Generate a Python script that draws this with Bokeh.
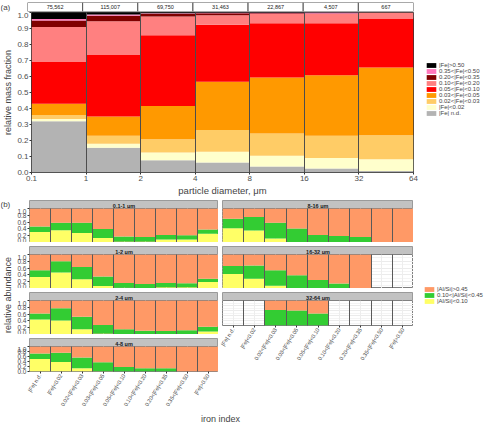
import numpy as np
from bokeh.core.properties import value
from bokeh.embed import file_html
from bokeh.layouts import column, row
from bokeh.models import (ColumnDataSource, FixedTicker, Grid, Label, Legend, LegendItem,
                          PrintfTickFormatter, Range1d, Spacer, Title)
from bokeh.plotting import figure
from bokeh.resources import INLINE

FONT = "Liberation Sans"

# ---------------- panel (a) data ----------------
diam_edges = ["0.1", "1", "2", "4", "8", "16", "32", "64"]
n_particles = ["75,562", "115,007", "69,750", "31,463", "22,867", "4,507", "667"]
fe_classes = ["|Fe| n.d.", "|Fe|<0.02", "0.02<|Fe|<0.03", "0.03<|Fe|<0.05",
              "0.05<|Fe|<0.10", "0.10<|Fe|<0.20", "0.20<|Fe|<0.35",
              "0.35<|Fe|<0.50", "|Fe|>0.50"]
fe_colors = ["#B3B3B3", "#FFFFCC", "#FFCC66", "#FF9900", "#FF0000",
             "#FF8080", "#800000", "#FF77BB", "#000000"]
frac_fe_nd = [0.320, 0.155, 0.077, 0.062, 0.037, 0.025, 0.010]
frac_fe_lt02 = [0.015, 0.025, 0.048, 0.067, 0.067, 0.065, 0.073]
frac_fe_0203 = [0.025, 0.050, 0.083, 0.136, 0.140, 0.139, 0.150]
frac_fe_0305 = [0.070, 0.120, 0.207, 0.302, 0.350, 0.379, 0.423]
frac_fe_0510 = [0.260, 0.385, 0.443, 0.356, 0.339, 0.325, 0.306]
frac_fe_1020 = [0.220, 0.210, 0.117, 0.060, 0.057, 0.057, 0.038]
frac_fe_2035 = [0.040, 0.035, 0.017, 0.013, 0.006, 0.004, 0.000]
frac_fe_3550 = [0.010, 0.008, 0.004, 0.002, 0.002, 0.006, 0.000]
frac_fe_gt50 = [0.040, 0.012, 0.004, 0.002, 0.002, 0.000, 0.000]

# ---------------- panel (b) data ----------------
size_classes = ["0.1-1 μm", "1-2 μm", "2-4 μm", "4-8 μm", "8-16 μm", "16-32 μm", "32-64 μm"]
al_classes = ["|Al/Si|<0.10", "0.10<|Al/Si|<0.45", "|Al/Si|>0.45"]
al_colors = ["#FFFF66", "#33CC33", "#FF9966"]
na = None
low_01_1 = [0.31, 0.36, 0.28, 0.13, 0.03, 0.03, 0.09, 0.09, 0.26]
mid_01_1 = [0.16, 0.22, 0.30, 0.27, 0.15, 0.13, 0.13, 0.12, 0.12]
high_01_1 = [0.53, 0.42, 0.42, 0.60, 0.82, 0.84, 0.78, 0.79, 0.62]
low_1_2 = [0.34, 0.47, 0.27, 0.07, 0.02, 0.01, 0.04, 0.04, 0.19]
mid_1_2 = [0.20, 0.33, 0.36, 0.28, 0.145, 0.125, 0.125, 0.115, 0.10]
high_1_2 = [0.46, 0.20, 0.37, 0.65, 0.835, 0.865, 0.835, 0.845, 0.71]
low_2_4 = [0.44, 0.41, 0.155, 0.03, 0.01, 0.01, 0.01, 0.01, 0.09]
mid_2_4 = [0.18, 0.36, 0.37, 0.25, 0.145, 0.10, 0.09, 0.115, 0.135]
high_2_4 = [0.38, 0.23, 0.475, 0.72, 0.845, 0.89, 0.90, 0.875, 0.775]
low_4_8 = [0.50, 0.38, 0.13, 0.01, 0.0, 0.0, 0.0, 0.0, 0.0]
mid_4_8 = [0.22, 0.37, 0.43, 0.36, 0.185, 0.135, 0.135, 0.0, 0.0]
high_4_8 = [0.28, 0.25, 0.44, 0.63, 0.815, 0.865, 0.865, 1.0, 1.0]
low_8_16 = [0.42, 0.35, 0.12, 0.01, 0.0, 0.0, 0.0, 0.0, 0.0]
mid_8_16 = [0.28, 0.40, 0.46, 0.40, 0.22, 0.19, 0.165, 0.0, 0.0]
high_8_16 = [0.30, 0.25, 0.42, 0.59, 0.78, 0.81, 0.835, 1.0, 1.0]
low_16_32 = [0.43, 0.29, 0.08, 0.0, 0.0, 0.0, 0.0, na, na]
mid_16_32 = [0.23, 0.385, 0.46, 0.39, 0.25, 0.15, 0.0, na, na]
high_16_32 = [0.34, 0.325, 0.46, 0.61, 0.75, 0.85, 1.0, na, na]
low_32_64 = [na, na, 0.0, 0.0, 0.0, na, na, na, na]
mid_32_64 = [na, na, 0.62, 0.60, 0.485, na, na, na, na]
high_32_64 = [na, na, 0.38, 0.40, 0.515, na, na, na, na]

lows = [low_01_1, low_1_2, low_2_4, low_4_8, low_8_16, low_16_32, low_32_64]
mids = [mid_01_1, mid_1_2, mid_2_4, mid_4_8, mid_8_16, mid_16_32, mid_32_64]
highs = [high_01_1, high_1_2, high_2_4, high_4_8, high_8_16, high_16_32, high_32_64]

TXT = "#4D4D4D"


def base_fig(**kw):
    return figure(output_backend="svg", toolbar_location=None, **kw)


def blank_fig(width, height, left=0, right=0, top=0, bottom=0, x_range=None):
    f = base_fig(width=width, height=height,
                 x_range=x_range if x_range is not None else Range1d(0, 1),
                 y_range=Range1d(0, 1), min_border_left=left, min_border_right=right,
                 min_border_top=top, min_border_bottom=bottom,
                 x_axis_location=None, y_axis_location=None)
    f.grid.visible = False
    f.outline_line_color = None
    return f


def style_axis(ax, size):
    ax.major_label_text_font = FONT
    ax.major_label_text_font_size = size
    ax.major_label_text_color = TXT
    ax.axis_label_text_font = FONT
    ax.axis_label_text_font_style = "normal"
    ax.axis_label_text_font_size = "9px"
    ax.major_tick_in = 0
    ax.major_tick_out = 2
    ax.minor_tick_line_color = None
    ax.major_tick_line_color = "#333333"
    ax.axis_line_color = None
    ax.major_label_standoff = 1
    ax.axis_label_standoff = 1


def text_fig(width, height, text, size):
    f = blank_fig(width, height)
    f.add_layout(Label(x=0, y=0.5, text=text, text_align="left", text_baseline="middle",
                       text_font=FONT, text_font_size=size))
    return f


def legend_fig(width, height, cols, source, labels, colors, left_pad):
    # the stacked bars are drawn outside this figure's visible range; only the legend shows
    lf = blank_fig(width, height, left=left_pad, x_range=Range1d(-30, -29))
    rs = lf.vbar_stack(cols, x="x", width=1, source=source, fill_color=colors, line_color=None)
    leg = Legend(items=[LegendItem(label=labels[i], renderers=[rs[i]])
                        for i in reversed(range(len(labels)))],
                 location="top_left", margin=0, padding=0, spacing=0, glyph_width=12,
                 glyph_height=6, label_height=6, label_standoff=2, label_text_font=FONT,
                 label_text_font_size="6px", border_line_color=None,
                 background_fill_alpha=0)
    lf.add_layout(leg, "center")
    return lf


# ================= panel (a) =================
nA = len(n_particles)
xa = np.arange(nA) + 0.5
cols_a = ["nd", "lt02", "c0203", "c0305", "c0510", "c1020", "c2035", "c3550", "gt50"]
srcA = ColumnDataSource(dict(x=xa, nd=frac_fe_nd, lt02=frac_fe_lt02, c0203=frac_fe_0203,
                             c0305=frac_fe_0305, c0510=frac_fe_0510, c1020=frac_fe_1020,
                             c2035=frac_fe_2035, c3550=frac_fe_3550, gt50=frac_fe_gt50))

# header strip with particle counts
hA = blank_fig(457, 12, right=71, top=2, bottom=1, x_range=Range1d(0, nA))
srcH = ColumnDataSource(dict(l=xa - 0.5, r=xa + 0.5, x=xa, y=np.full(nA, 0.5), t=n_particles))
hA.quad(left="l", right="r", bottom=0, top=1, source=srcH, fill_color="white",
        line_color="#555555")
hA.text(x="x", y="y", text="t", source=srcH, text_align="center", text_baseline="middle",
        text_font=value(FONT), text_font_size="5.5px", text_color="#222222")
labA = text_fig(27, 12, "(a)", "8px")
rowH = row(labA, hA, spacing=0)

pA = base_fig(width=421, height=186, x_range=hA.x_range, y_range=Range1d(0, 1),
              min_border_left=27, min_border_right=8, min_border_top=0, min_border_bottom=26)
rA = pA.vbar_stack(cols_a, x="x", width=1, source=srcA, fill_color=fe_colors, line_color=None)
pA.xaxis.ticker = FixedTicker(ticks=list(range(len(diam_edges))))
pA.xaxis.major_label_overrides = {i: diam_edges[i] for i in range(len(diam_edges))}
pA.yaxis.ticker = FixedTicker(ticks=[round(0.1 * k, 1) for k in range(11)])
pA.yaxis.formatter = PrintfTickFormatter(format="%.1f")
style_axis(pA.xaxis[0], "8px")
style_axis(pA.yaxis[0], "8px")
pA.xaxis.axis_label = "particle diameter, μm"
pA.yaxis.axis_label = "relative mass fraction"
pA.xaxis.axis_label_text_font_size = "9.5px"
pA.ygrid.visible = False
pA.xgrid.grid_line_color = "#4D4D4D"
pA.xgrid.level = "overlay"
pA.outline_line_color = "#333333"

legA = legend_fig(63, 66, cols_a, srcA, fe_classes, fe_colors, left_pad=4)
secA = row(pA, column(Spacer(width=63, height=50), legA, spacing=0), spacing=0)

# ================= panel (b) =================
nB = len(fe_classes)
xb = np.arange(nB)
srcs_b = [ColumnDataSource(dict(x=xb, low=np.array(lows[k], dtype=float),
                                mid=np.array(mids[k], dtype=float),
                                high=np.array(highs[k], dtype=float)))
          for k in range(len(size_classes))]


def make_facet(k, left, bottom):
    W = 204 if left else 195
    mbl = 13 if left else 4
    strip = blank_fig(W, 10, left=mbl)
    strip.background_fill_color = "#C2C2C2"
    strip.outline_line_color = "#9A9A9A"
    strip.add_layout(Label(x=0.5, y=0.5, text=size_classes[k], text_align="center",
                           text_baseline="middle", text_font=FONT, text_font_size="5.5px",
                           text_font_style="bold", text_color="#1A1A1A"))
    mbb = 31 if bottom else 0
    p = base_fig(width=W, height=34 + mbb, x_range=Range1d(-0.5, nB - 0.5),
                 y_range=Range1d(0, 1), min_border_left=mbl, min_border_right=0,
                 min_border_top=0, min_border_bottom=mbb,
                 x_axis_location="below" if bottom else None,
                 y_axis_location="left" if left else None)
    p.vbar_stack(["low", "mid", "high"], x="x", width=1, source=srcs_b[k],
                 fill_color=al_colors, line_color=None)
    p.xgrid.ticker = FixedTicker(ticks=list(np.arange(nB + 1) - 0.5))
    p.xgrid.grid_line_color = "#5A5A5A"
    p.xgrid.level = "overlay"
    p.ygrid.ticker = FixedTicker(ticks=[0, 0.2, 0.4, 0.6, 0.8, 1.0],
                                 minor_ticks=[0.1, 0.3, 0.5, 0.7, 0.9])
    p.ygrid.grid_line_color = "#EBEBEB"
    p.ygrid.minor_grid_line_color = "#F4F4F4"
    p.add_layout(Grid(dimension=0, ticker=FixedTicker(ticks=list(xb)),
                      grid_line_color="#EDEDED"))
    p.outline_line_color = "#808080"
    if left:
        p.yaxis.ticker = FixedTicker(ticks=[0, 0.2, 0.4, 0.6, 0.8, 1.0])
        p.yaxis.formatter = PrintfTickFormatter(format="%.1f")
        style_axis(p.yaxis[0], "6.5px")
    if bottom:
        p.xaxis.ticker = FixedTicker(ticks=list(xb))
        p.xaxis.major_label_overrides = {int(j): fe_classes[j] for j in xb}
        p.xaxis.major_label_orientation = 1.0
        style_axis(p.xaxis[0], "5.5px")
    return column(strip, p, spacing=0)


left_facets = [make_facet(k, True, k == 3) for k in range(4)]
right_facets = [make_facet(k, False, k == 6) for k in range(4, 7)]
left_col = column(*left_facets, spacing=2)
right_col = column(*right_facets, spacing=2)

labB = text_fig(14, 12, "(b)", "8px")
labY = blank_fig(14, 200, top=0, bottom=31)
labY.add_layout(Title(text="relative abundance", align="center", text_font=FONT,
                      text_font_size="9px", text_font_style="normal", standoff=0), "left")
left_lab = column(row(labB, spacing=0), row(labY, spacing=0), spacing=0)

legB = legend_fig(71, 22, ["low", "mid", "high"], srcs_b[3], al_classes, al_colors,
                  left_pad=10)
bsec = row(left_lab, left_col, right_col,
           column(Spacer(width=71, height=88), legB, spacing=0), spacing=0)

iron = blank_fig(484, 14, left=27, right=71)
iron.add_layout(Label(x=0.5, y=0.5, text="iron index", text_align="center",
                      text_baseline="middle", text_font=FONT, text_font_size="9px"))

page = column(rowH, secA, bsec, iron, spacing=0)
open("out.html", "w").write(file_html(page, INLINE))
